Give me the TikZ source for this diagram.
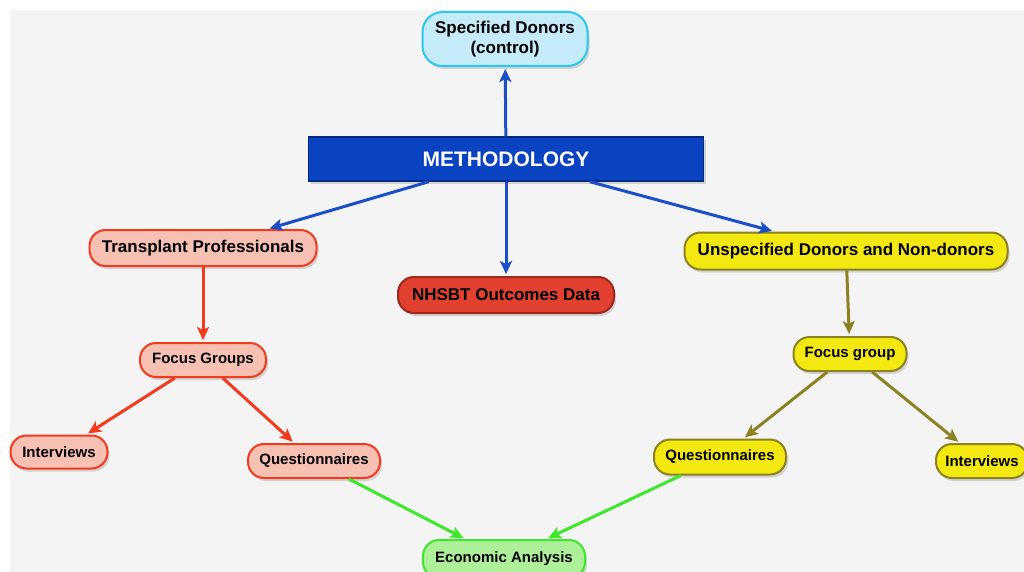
\documentclass[tikz,border=0pt]{standalone}
\usepackage{fontspec}
\setmainfont{Liberation Sans}
\usetikzlibrary{arrows.meta,shadows}

\definecolor{bgGray}{HTML}{F4F4F4}
\definecolor{methFill}{HTML}{0A43C2}
\definecolor{methLine}{HTML}{062A80}
\definecolor{blueLink}{HTML}{1A4FC8}
\definecolor{cyanFill}{HTML}{C4EBF7}
\definecolor{cyanLine}{HTML}{2CC8EC}
\definecolor{salmonFill}{HTML}{F6C0B2}
\definecolor{redLine}{HTML}{F23A1C}
\definecolor{nhsFill}{HTML}{E2412F}
\definecolor{nhsLine}{HTML}{9B2A1D}
\definecolor{yellowFill}{HTML}{F3E80F}
\definecolor{oliveLine}{HTML}{8C8222}
\definecolor{greenFill}{HTML}{AEF09A}
\definecolor{greenLine}{HTML}{3DE82A}

\begin{document}
\begin{tikzpicture}[x=1pt,y=-1pt,
    box/.style={draw, line width=2pt, rounded corners=16pt, inner xsep=6pt,
        inner ysep=2pt, minimum height=36pt, text=black, align=center,
        font=\fontsize{17}{20}\selectfont\bfseries,
        drop shadow={shadow xshift=2pt, shadow yshift=-3pt, fill=black!30}},
    subbox/.style={font=\fontsize{15}{18}\selectfont\bfseries},
    cyanbox/.style={box, fill=cyanFill, draw=cyanLine},
    redbox/.style={box, fill=salmonFill, draw=redLine},
    yellowbox/.style={box, fill=yellowFill, draw=oliveLine},
    greenbox/.style={box, fill=greenFill, draw=greenLine},
    link/.style={line width=3pt, -{Stealth[length=13pt, width=12pt, inset=3pt]}, shorten >=2pt}
]

    \useasboundingbox (0,0) rectangle (1024,572);
    \clip (0,0) rectangle (1024,572);
    \fill[bgGray] (10,10) rectangle (1024,572);

    \node[cyanbox, minimum width=165pt, minimum height=54pt, rounded corners=20pt]
        (spec) at (505,39) {Specified Donors\\(control)};
    \node[draw=methLine, fill=methFill, line width=1.5pt, minimum width=395pt,
        minimum height=44pt, text=white, font=\fontsize{21}{24}\selectfont\bfseries,
        drop shadow={shadow xshift=2pt, shadow yshift=-3pt, fill=black!30}]
        (meth) at (506,159) {METHODOLOGY};

    \node[redbox, minimum width=227pt] (prof) at (203,248) {Transplant Professionals};
    \node[box, fill=nhsFill, draw=nhsLine, minimum width=216pt] (nhs) at (506,295) {NHSBT Outcomes Data};
    \node[yellowbox, minimum width=323pt, minimum height=37pt] (unspec) at (846,251) {Unspecified Donors and Non-donors};

    \node[redbox, subbox, minimum width=126pt, minimum height=34pt] (focusL) at (203,360) {Focus Groups};
    \node[redbox, subbox, minimum width=97pt, minimum height=33pt] (interL) at (59,452) {Interviews};
    \node[redbox, subbox, minimum width=132pt, minimum height=34pt] (questL) at (314,461) {Questionnaires};

    \node[yellowbox, subbox, minimum width=113pt, minimum height=34pt] (focusR) at (850,354) {Focus group};
    \node[yellowbox, subbox, minimum width=132pt, minimum height=35pt] (questR) at (720,457) {Questionnaires};
    \node[yellowbox, subbox, minimum width=92pt, minimum height=34pt] (interR) at (982,461) {Interviews};

    \node[greenbox, subbox, minimum width=162pt, minimum height=38pt] (econ) at (504,559) {Economic Analysis};

    \draw[link, blueLink] (meth) -- (spec);
    \foreach \t in {prof, nhs, unspec} {
        \draw[link, blueLink] (meth) -- (\t);
    }

    \draw[link, redLine] (prof) -- (focusL);
    \draw[link, redLine] (focusL) -- (interL);
    \draw[link, redLine] (focusL) -- (questL);

    \draw[link, oliveLine] (unspec) -- (focusR);
    \draw[link, oliveLine] (focusR) -- (questR);
    \draw[link, oliveLine] (focusR) -- (interR);

    \draw[link, greenLine] (questL) -- (econ);
    \draw[link, greenLine] (questR) -- (econ);

\end{tikzpicture}
\end{document}
